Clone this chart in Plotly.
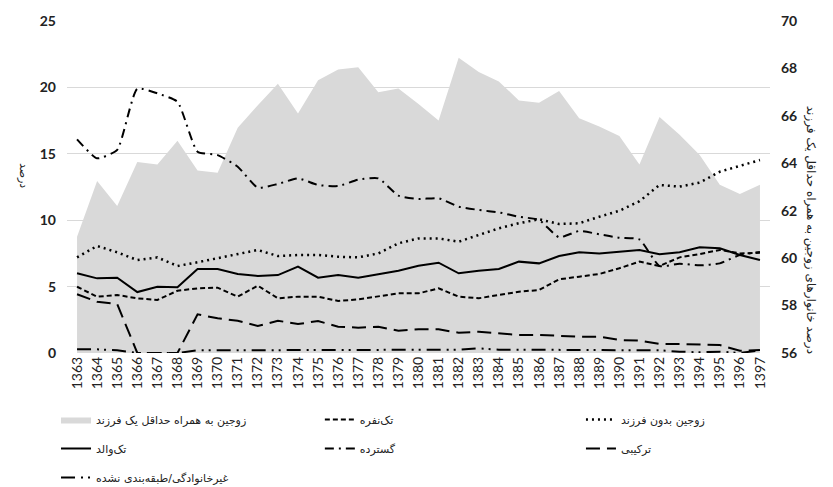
import plotly.graph_objects as go

years = [str(y) for y in range(1363, 1398)]

# right axis: couples with at least one child (%)
couples_with_child = [60.9, 63.25, 62.2, 64.05, 63.95, 64.95, 63.7, 63.6, 65.5, 66.45,
                      67.35, 66.1, 67.5, 67.95, 68.05, 67.0, 67.15, 66.5, 65.8, 68.45,
                      67.85, 67.45, 66.65, 66.55, 67.05, 65.9, 65.55, 65.15, 63.95, 65.95,
                      65.2, 64.35, 63.1, 62.7, 63.1]

# left axis series (%)
single_person = [4.99, 4.24, 4.37, 4.12, 3.99, 4.69, 4.87, 4.92, 4.24, 5.07,
                 4.12, 4.24, 4.24, 3.92, 4.04, 4.24, 4.49, 4.49, 4.87, 4.24,
                 4.12, 4.37, 4.62, 4.74, 5.55, 5.75, 5.95, 6.38, 6.88, 6.55,
                 7.2, 7.45, 7.76, 7.5, 7.55]
couples_no_child = [7.2, 8.06, 7.58, 7.0, 7.2, 6.55, 6.83, 7.13, 7.45, 7.76,
                    7.3, 7.38, 7.38, 7.25, 7.2, 7.5, 8.26, 8.63, 8.63, 8.38,
                    8.89, 9.39, 9.77, 10.07, 9.71, 9.77, 10.26, 10.71, 11.43, 12.65,
                    12.53, 12.83, 13.65, 14.08, 14.53]
single_parent = [6.0, 5.62, 5.67, 4.59, 4.99, 4.95, 6.33, 6.33, 5.95, 5.8,
                 5.87, 6.5, 5.67, 5.87, 5.67, 5.95, 6.2, 6.57, 6.8, 6.0,
                 6.2, 6.33, 6.88, 6.75, 7.3, 7.58, 7.5, 7.63, 7.76, 7.43,
                 7.58, 7.96, 7.88, 7.38, 7.0]
extended = [16.09, 14.66, 15.3, 19.9, 19.55, 18.92, 15.16, 14.9, 14.03, 12.45,
            12.73, 13.15, 12.65, 12.57, 13.05, 13.15, 11.85, 11.6, 11.65, 11.02,
            10.77, 10.59, 10.26, 10.02, 8.71, 9.19, 8.94, 8.68, 8.55, 6.55,
            6.72, 6.6, 6.75, 7.38, 7.6]
composite = [4.42, 3.86, 3.69, 0.0, 0.0, 0.0, 2.91, 2.61, 2.43, 2.03,
             2.43, 2.18, 2.41, 1.98, 1.91, 1.98, 1.68, 1.78, 1.78, 1.53,
             1.6, 1.48, 1.36, 1.36, 1.28, 1.23, 1.23, 0.98, 0.93, 0.68,
             0.68, 0.65, 0.6, 0.17, 0.23]
non_family = [0.28, 0.28, 0.2, 0.0, 0.0, 0.0, 0.2, 0.2, 0.2, 0.2,
              0.2, 0.2, 0.2, 0.2, 0.2, 0.22, 0.25, 0.22, 0.22, 0.25,
              0.35, 0.25, 0.25, 0.25, 0.25, 0.25, 0.25, 0.25, 0.25, 0.2,
              0.1, 0.05, 0.1, 0.0, 0.2]

names = ["زوجین به همراه حداقل یک فرزند", "تک‌نفره", "زوجین بدون فرزند",
         "تک‌والد", "گسترده", "ترکیبی", "غیرخانوادگی/طبقه‌بندی نشده"]

tick_left = [0, 5, 10, 15, 20, 25]
tick_right = [56, 58, 60, 62, 64, 66, 68, 70]

fig = go.Figure()
fig.add_trace(go.Scatter(x=years, y=couples_with_child, name=names[0], mode="lines",
                         fill="tozeroy", fillcolor="#d9d9d9", line=dict(width=0, color="#d9d9d9"),
                         yaxis="y", legend="legend", legendgroup="g0"))
line_specs = [
    (single_person, names[1], "5px,3px", 2, "linear", "legend2"),
    (couples_no_child, names[2], "2px,4px", 2.5, "linear", "legend3"),
    (single_parent, names[3], "solid", 2, "linear", "legend"),
    (extended, names[4], "9px,5px,2px,5px", 2, "spline", "legend2"),
    (composite, names[5], "14px,7px", 2, "linear", "legend3"),
    (non_family, names[6], "14px,6px,2px,5px,2px,6px", 2, "linear", "legend"),
]
for i, (vals, nm, dash, w, shape, lg) in enumerate(line_specs):
    fig.add_trace(go.Scatter(x=years, y=vals, name=nm, mode="lines",
                             line=dict(color="black", width=w, dash=dash, shape=shape,
                                       smoothing=0.5 if shape == "spline" else None),
                             yaxis="y2", legend=lg, legendgroup="g%d" % (i + 1)))

tickfont = dict(family="Lato", size=14, color="#222222", weight="bold")
legfont = dict(family="DejaVu Sans", size=11, color="#222222")
leg_common = dict(orientation="v", xanchor="left", yanchor="top",
                  xref="container", yref="container", y=0.1712,
                  font=legfont, bgcolor="rgba(0,0,0,0)", itemwidth=30,
                  traceorder="grouped", tracegroupgap=10)

# page body has an 8px margin, so the figure is sized/offset to place the plot area
fig.update_layout(
    width=825, height=479,
    margin=dict(l=59, r=63, t=13, b=134, autoexpand=False),
    plot_bgcolor="white", paper_bgcolor="white",
    showlegend=True,
    xaxis=dict(type="category", categoryorder="array", categoryarray=years,
               range=[-0.5, len(years) - 0.5], tickangle=-90, showgrid=False,
               showline=False, zeroline=False, ticks="", automargin=False,
               tickfont=dict(family="Lato", size=14, color="#222222")),
    yaxis=dict(side="right", range=[56, 70], tickvals=tick_right, showgrid=False,
               zeroline=False, showline=False, ticks="", tickfont=tickfont,
               ticklabelstandoff=10, automargin=False),
    yaxis2=dict(overlaying="y", side="left", range=[0, 25], tickvals=tick_left,
                showgrid=True, gridcolor="#d9d9d9", gridwidth=1, zeroline=False,
                showline=False, ticks="", tickfont=tickfont, ticklabelstandoff=10,
                automargin=False),
    legend=dict(x=0.0582, **leg_common),
    legend2=dict(x=0.378, **leg_common),
    legend3=dict(x=0.6945, **leg_common),
    annotations=[
        dict(text="درصد خانوارهای زوجین به همراه حداقل یک فرزند", xref="paper", yref="paper",
             x=1.071, y=0.37, textangle=90, showarrow=False,
             font=dict(family="DejaVu Sans", size=12, color="#222222")),
        dict(text="درصد", xref="paper", yref="paper", x=-0.074, y=0.535, textangle=90,
             showarrow=False, font=dict(family="DejaVu Sans", size=11, color="#222222")),
    ],
)

fig.write_html("out.html")
